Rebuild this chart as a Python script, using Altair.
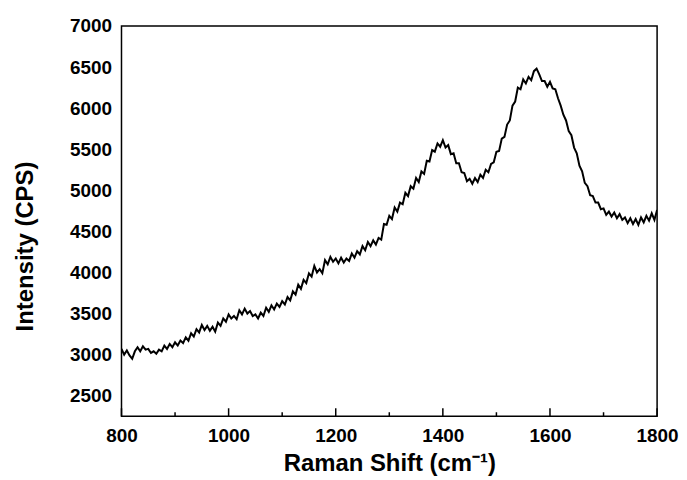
import altair as alt
import pandas as pd

# Raman shift (cm^-1), every 5 units, 800..1800
shift = list(range(800, 1805, 5))

# Intensity (CPS) at each shift value
intensity = [
    3070, 3000, 3050, 2990, 2950, 3040, 3090, 3040, 3100, 3060,
    3070, 3020, 3040, 3010, 3060, 3040, 3110, 3070, 3130, 3090,
    3150, 3110, 3170, 3140, 3210, 3170, 3260, 3220, 3310, 3270,
    3360, 3300, 3350, 3290, 3340, 3280, 3390, 3350, 3440, 3400,
    3490, 3440, 3470, 3430, 3540, 3490, 3560, 3500, 3530, 3470,
    3490, 3440, 3510, 3470, 3570, 3520, 3600, 3550, 3620, 3580,
    3650, 3610, 3700, 3660, 3770, 3730, 3850, 3800, 3910, 3870,
    3990, 3950, 4080, 4000, 4040, 3990, 4150, 4100, 4190, 4130,
    4170, 4110, 4180, 4120, 4170, 4140, 4230, 4180, 4260, 4220,
    4320, 4270, 4370, 4320, 4390, 4340, 4420, 4400, 4590, 4580,
    4690, 4650, 4790, 4740, 4850, 4830, 4970, 4930, 5050, 5020,
    5150, 5100, 5230, 5200, 5360, 5350, 5490, 5470, 5570, 5530,
    5610, 5520, 5550, 5440, 5450, 5330, 5330, 5220, 5210, 5110,
    5140, 5080, 5150, 5100, 5190, 5150, 5250, 5220, 5320, 5340,
    5470, 5480, 5630, 5650, 5800, 5850, 6030, 6080, 6250, 6230,
    6350, 6300, 6380, 6340, 6450, 6480, 6410, 6330, 6330, 6260,
    6320, 6240, 6230, 6120, 6030, 5920, 5850, 5720, 5670, 5520,
    5450, 5300, 5230, 5090, 5050, 4940, 4930, 4850, 4850, 4770,
    4780, 4700, 4740, 4680, 4730, 4660, 4710, 4640, 4670, 4600,
    4660, 4590, 4650, 4580, 4670, 4610, 4690, 4630, 4720, 4640,
    4760,
]

x_major_ticks = [800, 1000, 1200, 1400, 1600, 1800]
x_minor_ticks = [900, 1100, 1300, 1500, 1700]
y_tick_values = [2500, 3000, 3500, 4000, 4500, 5000, 5500, 6000, 6500, 7000]

W, H = 538, 392
FONT = "Liberation Sans"

df = pd.DataFrame({"shift": shift, "intensity": intensity})
xscale = alt.Scale(domain=[800, 1800], nice=False, zero=False)
yscale = alt.Scale(domain=[2250, 7000], nice=False, zero=False)

x_axis = alt.Axis(
    values=x_major_ticks,
    format="d",
    ticks=False,
    domain=False,
    grid=False,
    labelPadding=10,
    labelFontSize=19,
    labelFont=FONT,
    labelFontWeight="bold",
    labelColor="black",
    labelFlush=False,
    title="Raman Shift (cm⁻¹)",
    titleFont=FONT,
    titleFontSize=24,
    titleFontWeight="bold",
    titleColor="black",
    titleBaseline="alphabetic",
    titleY=55,
    titleX=W / 2,
)

y_axis = alt.Axis(
    values=y_tick_values,
    format="d",
    ticks=False,
    domain=False,
    grid=False,
    labelPadding=10,
    labelFontSize=19,
    labelFont=FONT,
    labelFontWeight="bold",
    labelColor="black",
    labelFlush=False,
    title="Intensity (CPS)",
    titleFont=FONT,
    titleFontSize=24,
    titleFontWeight="bold",
    titleColor="black",
    titleAngle=270,
    titleBaseline="alphabetic",
    titleAlign="center",
    titleX=-89,
    titleY=221,
)

line = alt.Chart(df).mark_line(color="black", strokeWidth=2.0, clip=True).encode(
    x=alt.X("shift:Q", scale=xscale, axis=x_axis),
    y=alt.Y("intensity:Q", scale=yscale, axis=y_axis),
)

major = alt.Chart(pd.DataFrame({"shift": x_major_ticks})).mark_rule(
    color="black", strokeWidth=1.5
).encode(
    x=alt.X("shift:Q", scale=xscale, axis=x_axis),
    y=alt.value(H),
    y2=alt.value(H - 8),
)

minor = alt.Chart(pd.DataFrame({"shift": x_minor_ticks})).mark_rule(
    color="black", strokeWidth=1.5
).encode(
    x=alt.X("shift:Q", scale=xscale, axis=x_axis),
    y=alt.value(H),
    y2=alt.value(H - 4),
)

chart = (
    alt.layer(line, major, minor)
    .properties(
        width=W,
        height=H,
        autosize=alt.AutoSizeParams(type="none"),
        padding={"left": 114, "top": 17, "right": 22, "bottom": 62},
        background="white",
    )
    .configure_view(stroke="black", strokeWidth=1.5)
)

chart.save("out.html", embed_options={"renderer": "svg", "actions": False})
